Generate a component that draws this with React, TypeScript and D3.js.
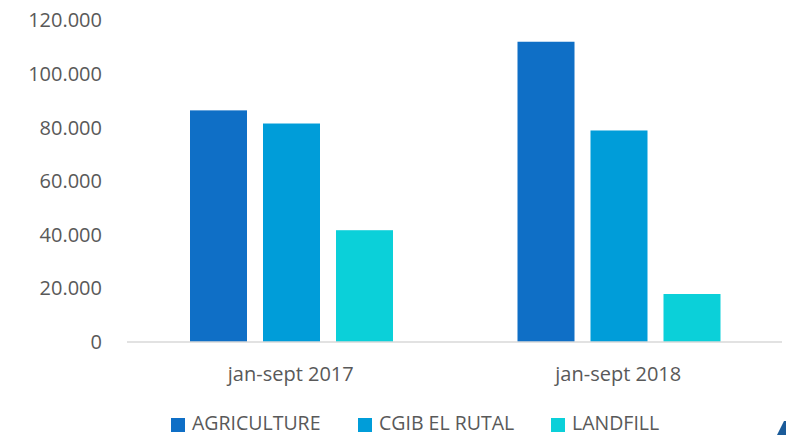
import React from "react";
import * as d3 from "d3";

const categories = ["jan-sept 2017", "jan-sept 2018"];
const seriesNames = ["AGRICULTURE", "CGIB EL RUTAL", "LANDFILL"];
const agriculture = [86400, 112000];
const cgib = [81500, 78900];
const landfill = [41700, 17900];
const yTicks = [0, 20000, 40000, 60000, 80000, 100000, 120000];
const colors = ["#0F6FC6", "#009DD9", "#0BD0D9"];

const W = 786;
const H = 435;
const FONT = "'Open Sans', sans-serif";
const TEXT = "#595959";
const legendX = [171, 358, 551];

export default function App() {
  const values = [agriculture, cgib, landfill];
  const x0 = d3.scaleBand<string>().domain(categories).range([127, 782]).padding(0);
  const x1 = d3
    .scaleBand<string>()
    .domain(seriesNames)
    .range([63, 266])
    .paddingInner(16 / 73)
    .paddingOuter(0);
  const y = d3.scaleLinear().domain([0, 120000]).range([342, 20.3]);
  const loc = d3.formatLocale({ decimal: ",", thousands: ".", grouping: [3], currency: ["", ""] });
  const fmt = loc.format(",");

  return (
    <svg
      width={W}
      height={H}
      style={{ position: "absolute", left: 0, top: 0, background: "#fff" }}
      fontFamily={FONT}
    >
      {yTicks.map((t) => (
        <text key={t} x={102} y={y(t) + 7} textAnchor="end" fontSize={20} fill={TEXT}>
          {fmt(t)}
        </text>
      ))}
      {categories.map((c, ci) => (
        <g key={c}>
          {seriesNames.map((s, si) => {
            const v = values[si][ci];
            return (
              <rect
                key={s}
                x={(x0(c) ?? 0) + (x1(s) ?? 0)}
                y={y(v)}
                width={x1.bandwidth()}
                height={y(0) - y(v)}
                fill={colors[si]}
              />
            );
          })}
          <text
            x={(x0(c) ?? 0) + x0.bandwidth() / 2}
            y={381}
            textAnchor="middle"
            fontSize={20}
            fill={TEXT}
          >
            {c}
          </text>
        </g>
      ))}
      <line x1={127} x2={782} y1={342} y2={342} stroke="#D9D9D9" strokeWidth={1.5} />
      {seriesNames.map((s, i) => (
        <g key={s}>
          <rect x={legendX[i]} y={418} width={14} height={14} fill={colors[i]} />
          <text x={legendX[i] + 21} y={430} fontSize={19.5} fill={TEXT}>
            {s}
          </text>
        </g>
      ))}
      <polygon points="784,421 786,421 786,435 777,435" fill="#1B5B99" />
    </svg>
  );
}
